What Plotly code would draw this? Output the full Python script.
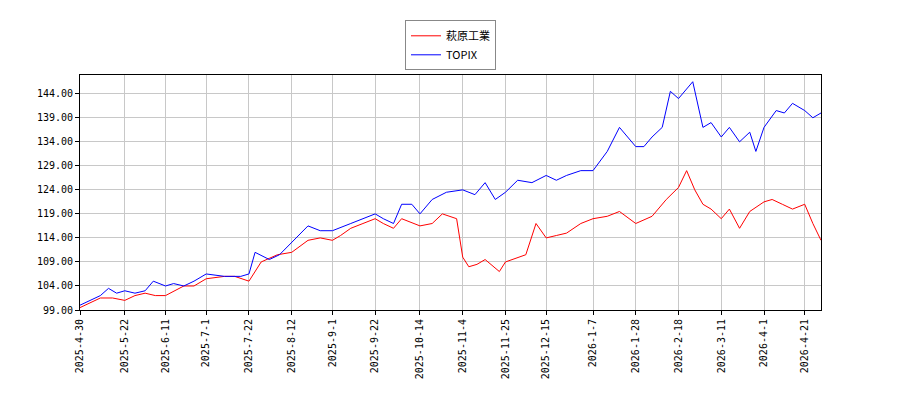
import plotly.graph_objects as go

blue_dates = ["2025-04-30","2025-05-05","2025-05-10","2025-05-14","2025-05-18","2025-05-22","2025-05-27","2025-06-01","2025-06-05","2025-06-11","2025-06-15","2025-06-20","2025-06-25","2025-07-01","2025-07-10","2025-07-18","2025-07-22","2025-07-25","2025-08-01","2025-08-06","2025-08-12","2025-08-20","2025-08-26","2025-09-01","2025-09-10","2025-09-16","2025-09-22","2025-09-26","2025-10-01","2025-10-05","2025-10-10","2025-10-14","2025-10-20","2025-10-27","2025-11-04","2025-11-10","2025-11-15","2025-11-20","2025-11-25","2025-12-01","2025-12-08","2025-12-15","2025-12-20","2025-12-25","2026-01-01","2026-01-07","2026-01-14","2026-01-20","2026-01-24","2026-01-28","2026-02-01","2026-02-05","2026-02-10","2026-02-14","2026-02-18","2026-02-22","2026-02-25","2026-03-02","2026-03-06","2026-03-11","2026-03-15","2026-03-20","2026-03-25","2026-03-28","2026-04-01","2026-04-07","2026-04-11","2026-04-15","2026-04-21","2026-04-25","2026-04-29"]
blue_vals = [100,101,102,103.5,102.5,103,102.5,103,105,104,104.5,104,105,106.5,106,106,106.5,111,109.5,110.5,113,116.5,115.5,115.5,117,118,119,118,117,121,121,119,122,123.5,124,123,125.5,122,123.5,126,125.5,127,126,127,128,128,132,137,135,133,133,135,137,144.5,143,145,146.5,137,138,135,137,134,136,132,137,140.5,140,142,140.5,139,140]

red_dates = ["2025-04-30","2025-05-05","2025-05-10","2025-05-16","2025-05-22","2025-05-27","2025-06-01","2025-06-06","2025-06-11","2025-06-20","2025-06-25","2025-07-01","2025-07-10","2025-07-15","2025-07-22","2025-07-28","2025-08-05","2025-08-12","2025-08-20","2025-08-26","2025-09-01","2025-09-05","2025-09-10","2025-09-16","2025-09-22","2025-09-26","2025-10-01","2025-10-05","2025-10-14","2025-10-20","2025-10-25","2025-11-01","2025-11-04","2025-11-07","2025-11-11","2025-11-15","2025-11-22","2025-11-25","2025-12-01","2025-12-05","2025-12-10","2025-12-15","2025-12-20","2025-12-25","2026-01-01","2026-01-07","2026-01-14","2026-01-20","2026-01-28","2026-02-05","2026-02-12","2026-02-18","2026-02-22","2026-02-26","2026-03-02","2026-03-06","2026-03-11","2026-03-15","2026-03-20","2026-03-25","2026-04-01","2026-04-05","2026-04-10","2026-04-15","2026-04-21","2026-04-25","2026-04-29"]
red_vals = [99.5,100.5,101.5,101.5,101,102,102.5,102,102,104,104,105.5,106,106,105,109,110.5,111,113.5,114,113.5,114.5,116,117,118,117,116,118,116.5,117,119,118,110,108,108.5,109.5,107,109,110,110.5,117,114,114.5,115,117,118,118.5,119.5,117,118.5,122,124.5,128,124,121,120,118,120,116,119.5,121.5,122,121,120,121,117,113.5]

tick_vals = ["2025-04-30","2025-05-22","2025-06-11","2025-07-01","2025-07-22","2025-08-12","2025-09-01","2025-09-22","2025-10-14","2025-11-04","2025-11-25","2025-12-15","2026-01-07","2026-01-28","2026-02-18","2026-03-11","2026-04-01","2026-04-21"]
tick_text = ["2025-4-30","2025-5-22","2025-6-11","2025-7-1","2025-7-22","2025-8-12","2025-9-1","2025-9-22","2025-10-14","2025-11-4","2025-11-25","2025-12-15","2026-1-7","2026-1-28","2026-2-18","2026-3-11","2026-4-1","2026-4-21"]
y_ticks = [99, 104, 109, 114, 119, 124, 129, 134, 139, 144]

fig = go.Figure()
fig.add_trace(go.Scatter(x=red_dates, y=red_vals, mode="lines", name="萩原工業", line=dict(color="red", width=1)))
fig.add_trace(go.Scatter(x=blue_dates, y=blue_vals, mode="lines", name="TOPIX", line=dict(color="blue", width=1)))
axis_common = dict(showgrid=True, gridcolor="#c8c8c8", showline=True, linecolor="black", mirror=True, ticks="outside", tickcolor="black", ticklen=4, zeroline=False, automargin=False)
fig.update_layout(
    width=900, height=400, plot_bgcolor="white", paper_bgcolor="white",
    margin=dict(l=72, r=87, t=62, b=98),
    font=dict(family="DejaVu Sans Mono", size=10, color="black"),
    legend=dict(x=0.5, y=1.02, xanchor="center", yanchor="bottom", bordercolor="#888", borderwidth=1,
                font=dict(size=11, family="Noto Sans CJK JP"), itemwidth=30),
    xaxis=dict(range=["2025-04-30", "2026-04-29"], tickvals=tick_vals, ticktext=tick_text, tickangle=-90, **axis_common),
    yaxis=dict(range=[99, 147.9], tickvals=y_ticks, tickformat=".2f", **axis_common),
)
fig.write_html("out.html")
